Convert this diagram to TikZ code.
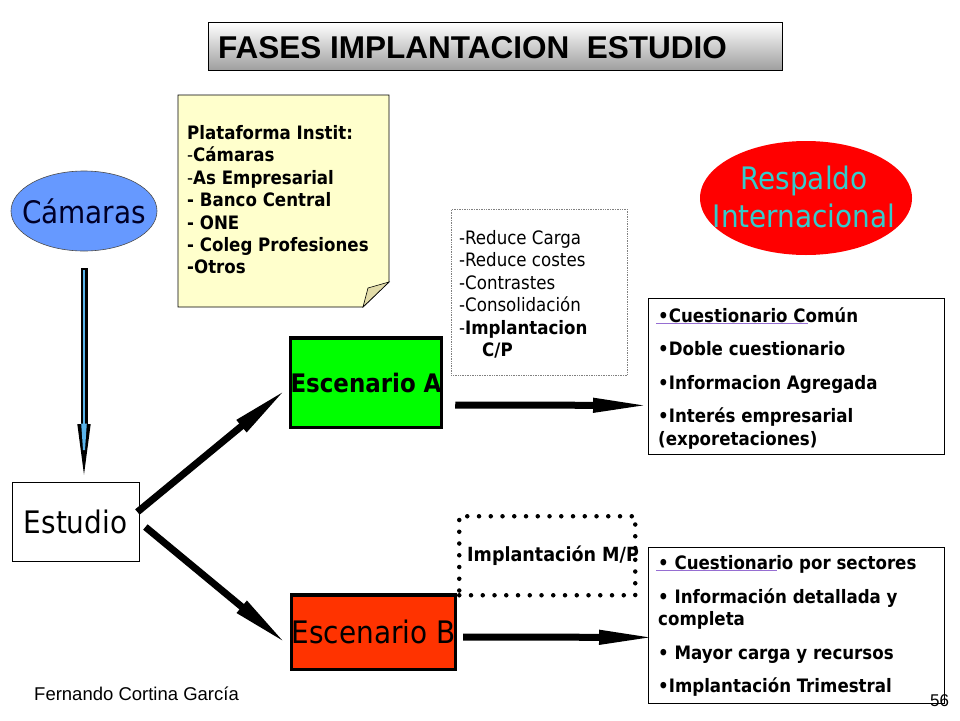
\documentclass[tikz,border=0pt]{standalone}
\usepackage{fontspec}
\setmainfont{DejaVu Sans Condensed}
\newfontfamily\arialf{Liberation Sans}
\usetikzlibrary{arrows.meta,shapes.geometric,calc}
\definecolor{noteyellow}{RGB}{255,255,204}
\definecolor{folddark}{RGB}{226,220,168}
\definecolor{camblue}{RGB}{102,153,255}
\definecolor{camtext}{RGB}{0,0,40}
\definecolor{teal2}{RGB}{51,204,204}
\definecolor{escgreen}{RGB}{0,255,0}
\definecolor{escred}{RGB}{255,51,0}
\definecolor{skyarrow}{RGB}{90,180,235}
\definecolor{spellviolet}{RGB}{150,110,210}
\tikzset{
  txt/.style={inner sep=0pt, anchor=base west},
  small/.style={font=\fontsize{18.5}{22.4}\selectfont},
  smallb/.style={font=\bfseries\fontsize{18.5}{22.4}\selectfont},
  big/.style={font=\fontsize{31}{38}\selectfont},
  bigarrow/.style={line width=7pt, -{Triangle[length=59pt,width=13pt]}},
  diagarrow/.style={line width=7pt, -{Triangle[length=60pt,width=14pt]}},
  escbox/.style={draw, line width=3.5pt, inner sep=0pt},
  listbox/.style={draw, line width=0.8pt, anchor=north west, minimum width=296pt, minimum height=156pt, inner sep=0pt},
}
\begin{document}
\begin{tikzpicture}[x=1pt,y=-1pt]
\useasboundingbox (0,0) rectangle (960,720);

% title
\node[draw, line width=0.8pt, anchor=north west, minimum width=574pt, minimum height=48pt,
      top color=white, bottom color=black!38, inner sep=0pt] (title) at (208,22) {};
\node[txt, font=\arialf\bfseries\fontsize{31.5}{31.5}\selectfont] (titletext) at (218,58)
  {FASES IMPLANTACION\ \ ESTUDIO};

% note
\filldraw[fill=noteyellow, line width=0.8pt] (178,95) -- (389,95) -- (389,282) -- (363,307) -- (178,307) -- cycle;
\filldraw[fill=folddark, line width=0.6pt] (363,307) -- (368,288) -- (389,282) -- cycle;
\node[inner sep=0pt, anchor=north west, align=left, smallb] (notetext) at (187,125.3)
  {Plataforma Instit:\\\textmd{-}Cámaras\\\textmd{-}As Empresarial\\- Banco Central\\- ONE\\- Coleg Profesiones\\-Otros};

% ellipses
\node[ellipse, draw=black!70, line width=0.6pt, fill=camblue, minimum width=146pt, minimum height=80pt,
      inner sep=0pt] (cam) at (84,211) {};
\node[inner sep=0pt, text=camtext, big] (camtext) at (cam.center) {Cámaras};
\node[ellipse, fill=red, minimum width=212pt, minimum height=114pt, inner sep=0pt] (resp) at (806,198) {};
\node[inner sep=0pt, text=teal2, big, align=center] (resptext) at (804,197) {Respaldo\\Internacional};

% Estudio
\node[draw, line width=0.8pt, minimum width=127pt, minimum height=79pt, inner sep=0pt, big] (est) at (75.5,521.5) {Estudio};

% Escenarios
\node[escbox, fill=escgreen, minimum width=150.5pt, minimum height=89.5pt,
      font=\bfseries\fontsize{25.5}{30}\selectfont] (escA) at (366,382.5) {Escenario A};
\node[escbox, fill=escred, minimum width=163.5pt, minimum height=74.5pt, big] (escB) at (373.5,632) {Escenario B};

% gray dotted box
\node[draw=gray, densely dotted, line width=0.7pt, anchor=north west, minimum width=176pt, minimum height=166pt, inner sep=0pt] (graybox) at (451,209) {};
\node[inner sep=0pt, anchor=north west, align=left, small] (graytext) at (459,230.3)
  {-Reduce Carga\\-Reduce costes\\-Contrastes\\-Consolidación\\-\textbf{Implantacion}\\\hspace*{23pt}\textbf{C/P}};

% box A
\node[listbox] (boxA) at (648,298) {};
\node[txt, smallb] (a1) at (658,322) {•Cuestionario Común};
\node[txt, smallb] (a2) at (658,355) {•Doble cuestionario};
\node[txt, smallb] (a3) at (658,389) {•Informacion Agregada};
\node[txt, smallb] (a4) at (658,422) {•Interés empresarial};
\node[txt, smallb] (a5) at (658,445) {(exporetaciones)};
\draw[spellviolet, line width=0.7pt] (656,323.5) -- (808,323.5);

% dotted box M/P
\node[draw, line width=4.5pt, line cap=round, dash pattern=on 0pt off 11.75pt,
      anchor=north west, minimum width=176pt, minimum height=79pt, inner sep=0pt] (mpbox) at (457,514) {};
\node[txt, font=\bfseries\fontsize{19.5}{22}\selectfont] (mptext) at (467,561) {Implantación M/P};

% box B
\node[listbox] (boxB) at (648,547) {};
\node[txt, smallb] (b1) at (658,569) {• Cuestionario por sectores};
\node[txt, smallb] (b2) at (658,603) {• Información detallada y};
\node[txt, smallb] (b3) at (658,625) {completa};
\node[txt, smallb] (b4) at (658,659) {• Mayor carga y recursos};
\node[txt, smallb] (b5) at (658,692) {•Implantación Trimestral};
\draw[spellviolet, line width=0.7pt] (656,570) -- (777,570);

% arrows
\draw[line width=7pt, -{Triangle[length=66pt,width=11pt]}, shorten <=17pt, shorten >=-8.5pt]
  (cam.south) -- (cam.south |- est.north);
\draw[skyarrow, line width=2pt, -{Triangle[length=44pt,width=5pt]}, shorten <=19pt, shorten >=14pt]
  (cam.south) -- (cam.south |- est.north);

\draw[diagarrow] ($(est.east)+(-2,-9.5)$) -- ($(escA.west)+(-1,5.5)$);
\draw[diagarrow] ($(est.east)+(6,5.5)$) -- ($(escB.west)+(-2,13)$);
\draw[bigarrow] ($(escA.east)+(12,22.5)$) -- ($(boxA.west)+(4,29)$);
\draw[bigarrow] ($(escB.east)+(6,5)$) -- ($(boxB.west)+(10,12)$);

% footer
\node[txt, font=\arialf\fontsize{18.5}{20}\selectfont] (author) at (34,700) {Fernando Cortina García};
\node[txt, font=\arialf\fontsize{17}{20}\selectfont] (pg) at (930,706) {56};
\end{tikzpicture}
\end{document}
